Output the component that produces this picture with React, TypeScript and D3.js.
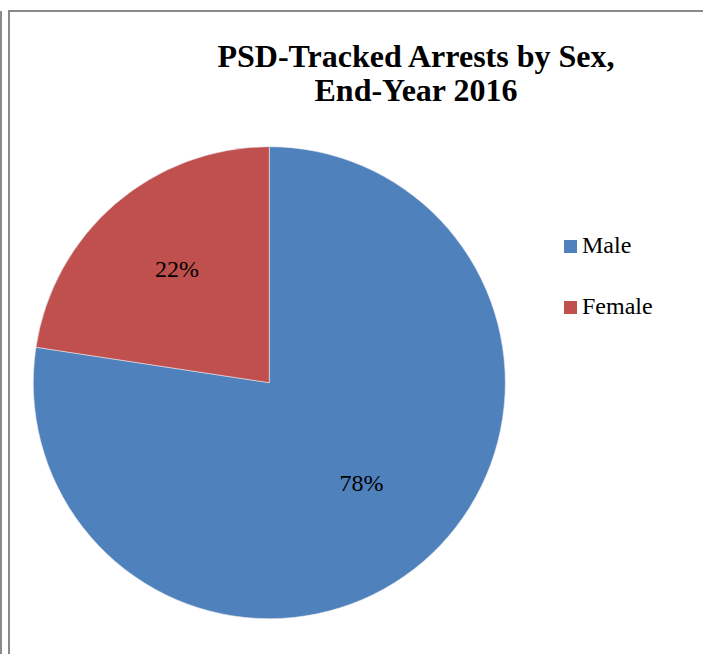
import React from "react";
import * as d3 from "d3";

const categories = ["Male", "Female"];
const values = [77.4, 22.6];
const labels = ["78%", "22%"];
const colors = ["#4F81BD", "#C0504D"];
const titleLines = ["PSD-Tracked Arrests by Sex,", "End-Year 2016"];

const W = 703;
const H = 654;
const cx = 269.3;
const cy = 382.7;
const R = 236;

export default function App() {
  const pie = d3.pie<number>().sort(null).value((d) => d);
  const arcs = pie(values);
  const arc = d3.arc<d3.PieArcDatum<number>>().innerRadius(0).outerRadius(R);
  const labelArc = d3
    .arc<d3.PieArcDatum<number>>()
    .innerRadius(R * 0.6)
    .outerRadius(R * 0.6);
  const font = '"Liberation Serif", "DejaVu Serif", serif';
  return (
    <svg
      width={W}
      height={H}
      style={{ position: "absolute", left: 0, top: 0, display: "block", background: "#fff", fontFamily: font }}
    >
      <line x1={1} y1={11} x2={1} y2={H} stroke="#8a8a8a" strokeWidth={2} />
      <rect x={9} y={11} width={W} height={H} fill="#fff" stroke="#8a8a8a" strokeWidth={2} />
      <text x={416} y={67} textAnchor="middle" fontWeight="bold" fontSize={32} fill="#000">
        {titleLines[0]}
      </text>
      <text x={416} y={101} textAnchor="middle" fontWeight="bold" fontSize={32} fill="#000">
        {titleLines[1]}
      </text>
      <g transform={`translate(${cx},${cy})`}>
        {arcs.map((a, i) => (
          <path key={i} d={arc(a) || ""} fill={colors[i]} stroke="#e8e8f0" strokeWidth={0.6} />
        ))}
        {arcs.map((a, i) => {
          const [x, y] = labelArc.centroid(a);
          return (
            <text key={i} x={x} y={y} dy="0.05em" textAnchor="middle" fontSize={24} fill="#000">
              {labels[i]}
            </text>
          );
        })}
      </g>
      {categories.map((c, i) => (
        <g key={c} transform={`translate(564,${240 + i * 61})`}>
          <rect x={0} y={0} width={13} height={13} fill={colors[i]} />
          <text x={18} y={13} fontSize={24} fill="#000">
            {c}
          </text>
        </g>
      ))}
    </svg>
  );
}
